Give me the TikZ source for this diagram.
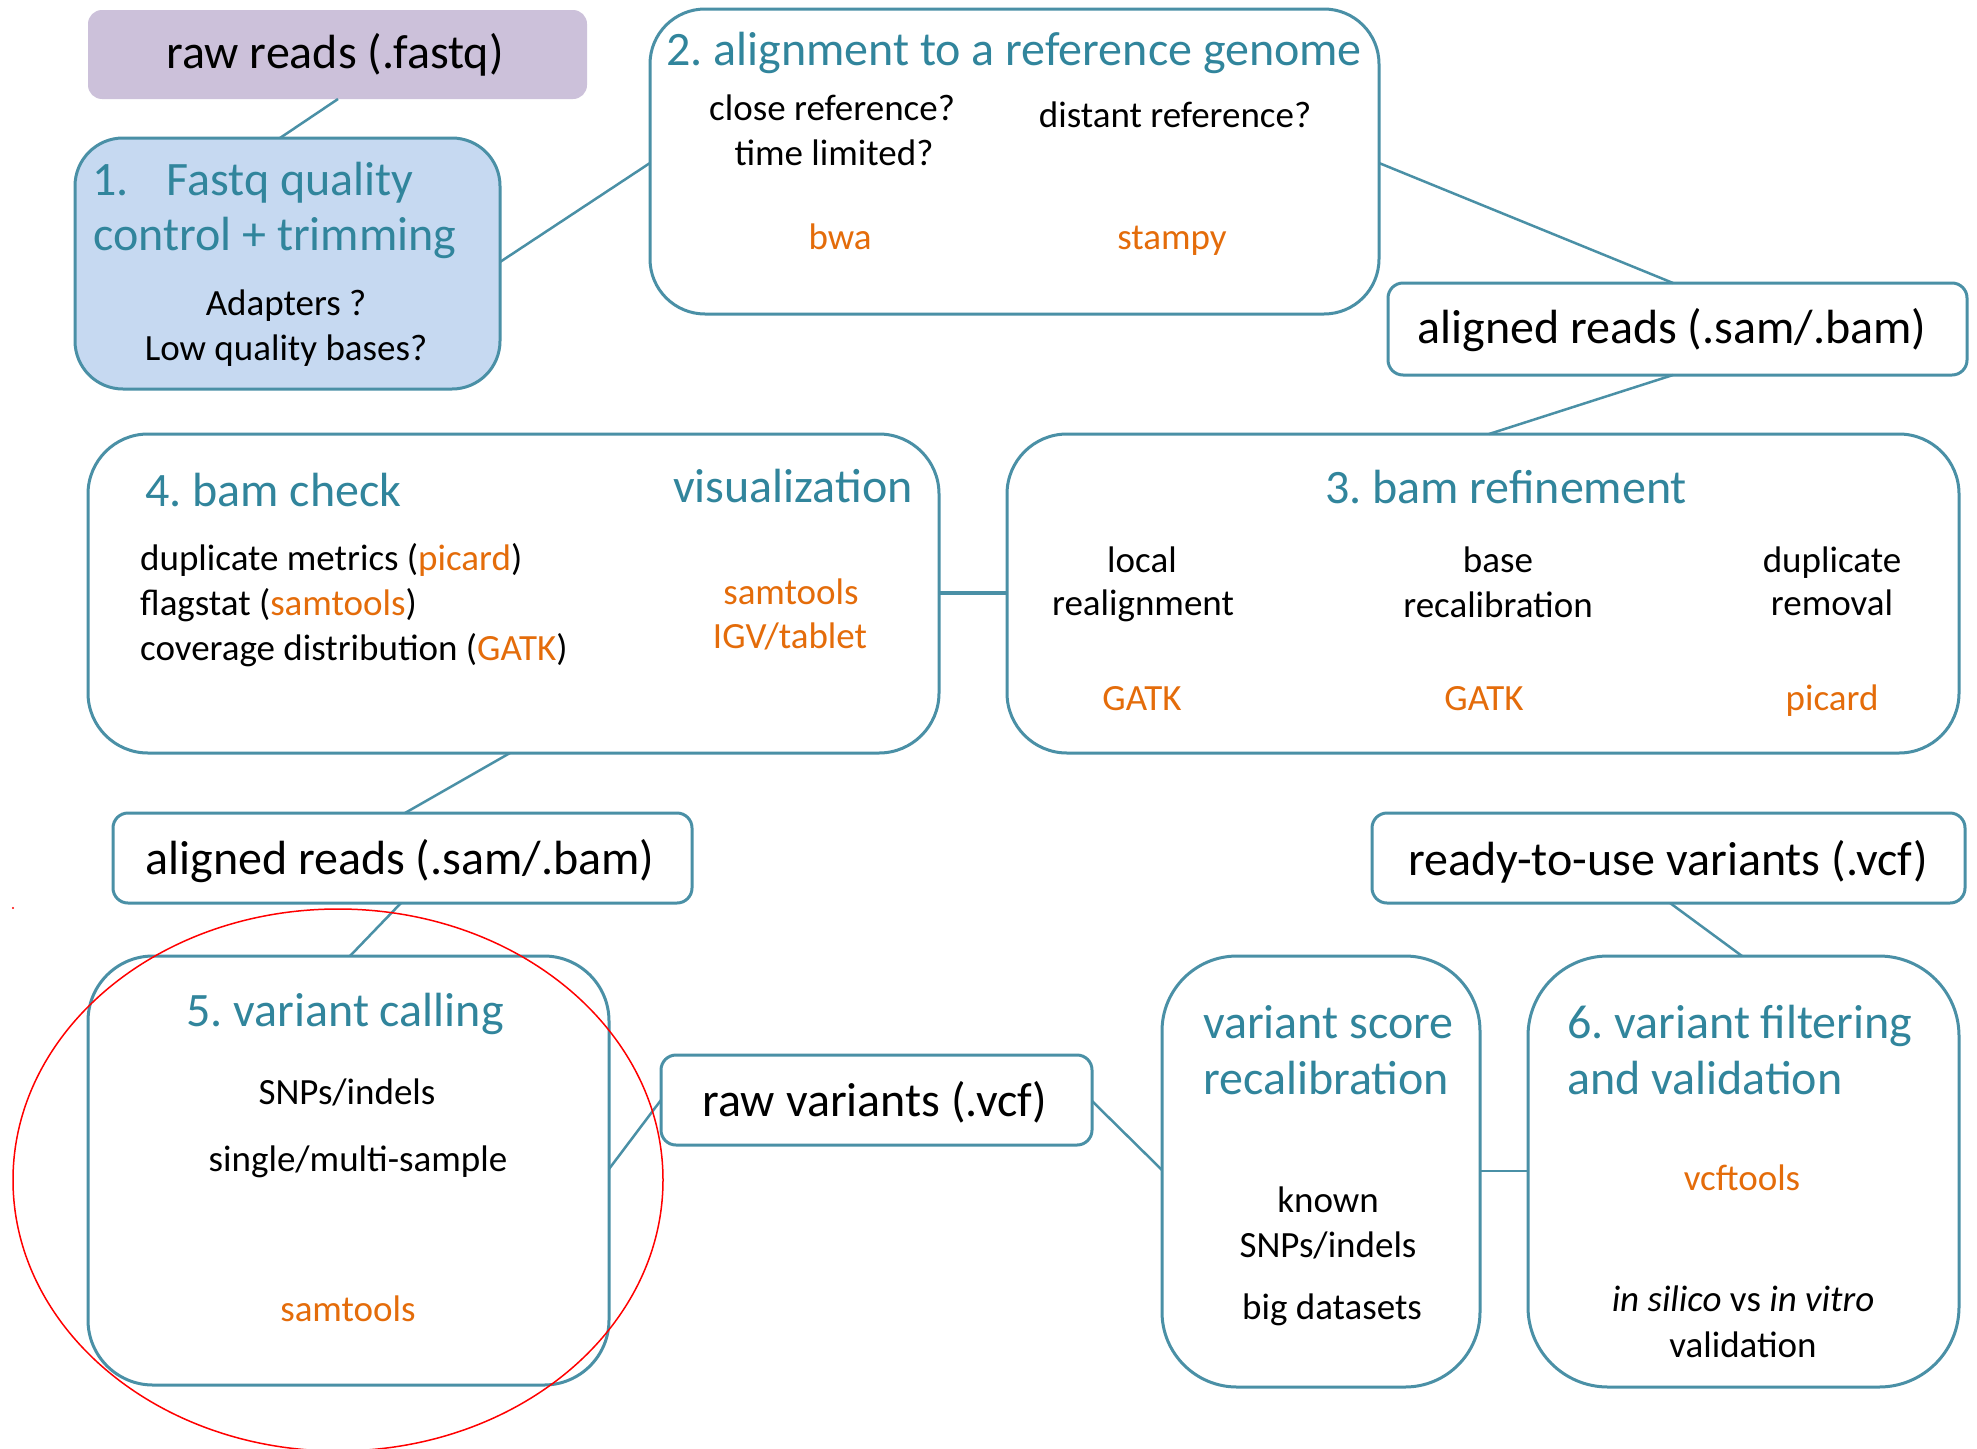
\documentclass[tikz,border=0pt]{standalone}
\usepackage{fontspec}
\setmainfont{Carlito}
\usetikzlibrary{calc}

\definecolor{flowline}{HTML}{4A90A6}
\definecolor{headteal}{HTML}{31859C}
\definecolor{toolorange}{HTML}{E46C0A}
\definecolor{rawfill}{HTML}{CCC1DA}
\definecolor{qcfill}{HTML}{C6D9F1}

\tikzset{
  stage/.style={draw=flowline, line width=3pt, rounded corners=#1,
    inner sep=0pt, outer sep=0pt, anchor=north west},
  filebox/.style={stage=15pt},
  link/.style={draw=flowline, line width=2.5pt},
  big/.style={font=\fontsize{48}{58}\selectfont\frenchspacing, inner sep=0pt, anchor=mid, yshift=-9pt},
  small/.style={font=\fontsize{37}{45}\selectfont\frenchspacing, inner sep=0pt, anchor=mid, yshift=-9pt},
  heading/.style={big, text=headteal},
  plain/.style={small, text=black},
  tool/.style={small, text=toolorange},
  label/.style={big, text=black}
}

\begin{document}
\begin{tikzpicture}[x=1pt, y=-1pt]
\useasboundingbox (0,0) rectangle (1977,1448);
\fill[white] (0,0) rectangle (1977,1448);

% ---------- boxes ----------
\node[fill=rawfill, rounded corners=14pt, inner sep=0pt, outer sep=0pt, anchor=north west,
      minimum width=499pt, minimum height=89pt] (raw) at (88,10) {};
\node[stage=48pt, fill=qcfill, minimum width=425pt, minimum height=251pt] (qc) at (75,138) {};
\node[stage=55pt, minimum width=729pt, minimum height=305pt] (align) at (650,9) {};
\node[filebox, minimum width=579pt, minimum height=92pt] (aligned1) at (1388,283) {};
\node[stage=60pt, minimum width=851pt, minimum height=319pt] (check) at (88,434) {};
\node[stage=60pt, minimum width=952pt, minimum height=319pt] (refine) at (1007,434) {};
\node[filebox, minimum width=579pt, minimum height=90pt] (aligned2) at (113,813) {};
\node[filebox, minimum width=593pt, minimum height=90pt] (ready) at (1372,813) {};
\node[stage=65pt, minimum width=521pt, minimum height=429pt] (call) at (88,956) {};
\node[filebox, minimum width=431pt, minimum height=90pt] (rawvar) at (661,1055) {};
\node[stage=75pt, minimum width=318pt, minimum height=431pt] (vsr) at (1162,956) {};
\node[stage=80pt, minimum width=431pt, minimum height=431pt] (filt) at (1528,956) {};

% ---------- connectors ----------
\draw[link] ($(raw.south west)+(250,0)$) -- ($(qc.north west)+(205,0)$);
\draw[link] ($(qc.north east)+(0,124)$) -- ($(align.north west)+(0,154)$);
\draw[link] ($(align.north east)+(0,154)$) -- ($(aligned1.north west)+(285,0)$);
\draw[link] ($(aligned1.south west)+(285,0)$) -- ($(refine.north west)+(482,0)$);
\draw[link, line width=3.5pt] ($(check.north east)+(0,159)$) -- ($(refine.north west)+(0,159)$);
\draw[link] ($(check.south west)+(422,0)$) -- ($(aligned2.north west)+(292,0)$);
\draw[link] ($(aligned2.south west)+(288,0)$) -- ($(call.north west)+(262,0)$);
\draw[link] ($(call.north east)+(0,213)$) -- ($(rawvar.north west)+(0,45)$);
\draw[link] ($(rawvar.north east)+(0,46)$) -- ($(vsr.north west)+(0,214)$);
\draw[link] ($(vsr.north east)+(0,215)$) -- ($(filt.north west)+(0,215)$);
\draw[link] ($(ready.south west)+(298,0)$) -- ($(filt.north west)+(214,0)$);

% ---------- raw reads ----------
\node[label] (rawtxt) at (335,57) {raw reads (.fastq)};

% ---------- 1. quality control ----------
\node[heading, anchor=mid west] (qct1) at (92,184) {1.\hspace{38pt}Fastq quality};
\node[heading, anchor=mid west] (qct2) at (93,239) {control + trimming};
\node[plain] (qcb1) at (286,304) {Adapters ?};
\node[plain] (qcb2) at (286,349) {Low quality bases?};

% ---------- 2. alignment ----------
\node[heading] (alt) at (1014,54) {2. alignment to a reference genome};
\node[plain] (alb1) at (832,109) {close reference?};
\node[plain] (alb2) at (834,154) {time limited?};
\node[plain] (alb3) at (1175,116) {distant reference?};
\node[tool] (alt1) at (840,238) {bwa};
\node[tool] (alt2) at (1172,238) {stampy};

\node[label] (a1txt) at (1672,332) {aligned reads (.sam/.bam)};

% ---------- 3. bam refinement ----------
\node[heading] (rft) at (1506,492) {3. bam refinement};
\node[plain] (rf1a) at (1142,561) {local};
\node[plain] (rf1b) at (1143,604) {realignment};
\node[plain] (rf2a) at (1498,561) {base};
\node[plain] (rf2b) at (1498,606) {recalibration};
\node[plain] (rf3a) at (1832,561) {duplicate};
\node[plain] (rf3b) at (1832,604) {removal};
\node[tool] (rft1) at (1142,699) {GATK};
\node[tool] (rft2) at (1484,699) {GATK};
\node[tool] (rft3) at (1832,699) {picard};

% ---------- 4. bam check ----------
\node[heading, anchor=mid west] (ckt) at (145,495) {4. bam check};
\node[heading] (ckv) at (793,491) {visualization};
\node[plain, anchor=mid west] (ck1) at (140,559) {duplicate metrics (\textcolor{toolorange}{picard})};
\node[plain, anchor=mid west] (ck2) at (140,604) {flagstat (\textcolor{toolorange}{samtools})};
\node[plain, anchor=mid west] (ck3) at (140,649) {coverage distribution (\textcolor{toolorange}{GATK})};
\node[tool] (ckt1) at (791,593) {samtools};
\node[tool] (ckt2) at (790,637) {IGV/tablet};

\node[label] (a2txt) at (400,863) {aligned reads (.sam/.bam)};

% ---------- 5. variant calling ----------
\node[heading] (vct) at (345,1015) {5. variant calling};
\node[plain] (vc1) at (347,1093) {SNPs/indels};
\node[plain] (vc2) at (358,1160) {single/multi-sample};
\node[tool] (vct1) at (348,1310) {samtools};

\node[label] (rvtxt) at (875,1105) {raw variants (.vcf)};

% ---------- variant score recalibration ----------
\node[heading, anchor=mid west] (vst1) at (1203,1027) {variant score};
\node[heading, anchor=mid west] (vst2) at (1203,1083) {recalibration};
\node[plain] (vs1) at (1328,1201) {known};
\node[plain] (vs2) at (1328,1246) {SNPs/indels};
\node[plain] (vs3) at (1332,1308) {big datasets};

% ---------- 6. filtering ----------
\node[heading, anchor=mid west] (ft1) at (1567,1027) {6. variant filtering};
\node[heading, anchor=mid west] (ft2) at (1567,1083) {and validation};
\node[tool] (ftt) at (1742,1179) {vcftools};
\node[plain] (fb1) at (1743,1300) {\itshape in silico \upshape vs \itshape in vitro};
\node[plain] (fb2) at (1743,1346) {validation};

\node[label] (rtutxt) at (1668,864) {ready-to-use variants (.vcf)};

% ---------- hand-drawn red mark ----------
\draw[red, line width=1.5pt] (338,1180) ellipse [x radius=325pt, y radius=271pt];
\fill[red] (13,908) circle [radius=1.2pt];

\end{tikzpicture}
\end{document}
